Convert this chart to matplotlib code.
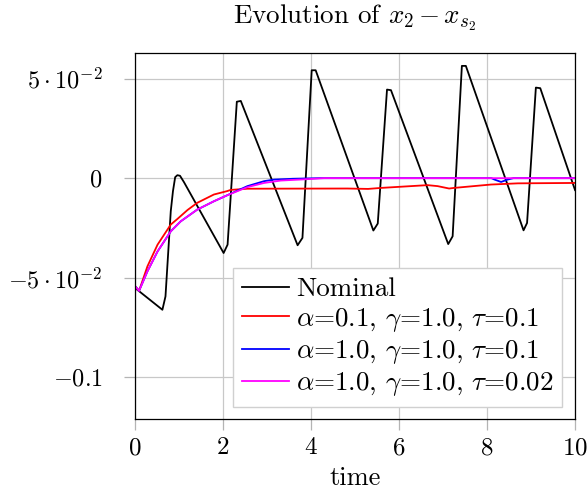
import matplotlib.pyplot as plt

plt.rcParams['font.family'] = 'serif'
plt.rcParams['font.serif'] = ['cmr10']
plt.rcParams['mathtext.fontset'] = 'cm'
plt.rcParams['axes.formatter.use_mathtext'] = True
plt.rcParams['font.size'] = 19

# Nominal
t_nom = [0.0, 0.63, 0.70, 0.82, 0.87, 0.92, 0.97, 1.03, 1.12, 2.02, 2.11, 2.32, 2.41,
         3.70, 3.81, 4.02, 4.11, 5.42, 5.52, 5.73, 5.82, 7.12, 7.22, 7.43, 7.52,
         8.83, 8.91, 9.11, 9.21, 10.0]
y_nom = [-0.055, -0.0661, -0.0594, -0.0166, -0.0065, 0.0005, 0.0015, 0.0012, -0.002,
         -0.0376, -0.0334, 0.0384, 0.0388, -0.0337, -0.030, 0.0542, 0.0542,
         -0.0263, -0.0228, 0.0445, 0.0442, -0.0331, -0.0292, 0.0564, 0.0564,
         -0.0262, -0.0225, 0.0455, 0.0452, -0.006]

# alpha=0.1, gamma=1.0, tau=0.1
t_red = [0.0, 0.1, 0.29, 0.52, 0.82, 0.97, 1.2, 1.42, 1.8, 2.1, 2.18, 2.56, 4.83, 5.3,
         5.59, 6.65, 6.88, 7.14, 7.25, 8.09, 8.7, 10.0]
y_red = [-0.054, -0.0566, -0.0443, -0.0334, -0.0233, -0.0205, -0.0160, -0.0124,
         -0.0082, -0.0065, -0.0059, -0.0053, -0.0052, -0.0054, -0.0049, -0.0035,
         -0.004, -0.0052, -0.0049, -0.0032, -0.0026, -0.0024]

# alpha=1.0, gamma=1.0, tau=0.1
t_blue = [0.0, 0.1, 0.29, 0.52, 0.82, 1.045, 1.42, 1.8, 2.1, 2.56, 2.94, 3.17, 3.6,
          4.2, 8.1, 8.17, 8.32, 8.47, 8.6, 10.0]
y_blue = [-0.054, -0.0566, -0.0468, -0.0368, -0.0267, -0.0217, -0.0158, -0.0116,
          -0.0086, -0.004, -0.0015, -0.0007, -0.0003, 0.0, 0.0, -0.0007, -0.0019,
          -0.0007, 0.0, 0.0]

# alpha=1.0, gamma=1.0, tau=0.02
t_mag = [0.0, 0.1, 0.29, 0.52, 0.82, 1.045, 1.42, 1.8, 2.1, 2.56, 2.94, 3.32, 3.84,
         4.3, 10.0]
y_mag = [-0.054, -0.0566, -0.0468, -0.0368, -0.0267, -0.0217, -0.0158, -0.0116,
         -0.0086, -0.0045, -0.0024, -0.0012, -0.0006, 0.0, 0.0]

fig = plt.figure(figsize=(5.88, 4.93), dpi=100)
ax = fig.add_axes([0.229, 0.150, 0.749, 0.743])

ax.plot(t_nom, y_nom, color='black', lw=1.3, label='Nominal')
ax.plot(t_red, y_red, color='red', lw=1.3, label=r'$\alpha$=0.1, $\gamma$=1.0, $\tau$=0.1')
ax.plot(t_blue, y_blue, color='blue', lw=1.3, label=r'$\alpha$=1.0, $\gamma$=1.0, $\tau$=0.1')
ax.plot(t_mag, y_mag, color='magenta', lw=1.3, label=r'$\alpha$=1.0, $\gamma$=1.0, $\tau$=0.02')

ax.set_xlim(0, 10)
ax.set_ylim(-0.121, 0.063)
ax.set_xticks([0, 2, 4, 6, 8, 10])
ax.set_yticks([-0.1, -0.05, 0, 0.05])
ax.set_yticklabels([r'$-0.1$', r'$-5\cdot10^{-2}$', r'$0$', r'$5\cdot10^{-2}$'], fontsize=17.5)
ax.set_xticklabels([rf'${v}$' for v in [0, 2, 4, 6, 8, 10]], fontsize=18)
ax.grid(True, color='#c8c8c8', lw=0.9)
ax.tick_params(direction='out', length=8, color='#b4b4b4', width=0.9)
ax.tick_params(axis='x', pad=5)
ax.tick_params(axis='y', pad=15)
for s in ax.spines.values():
    s.set_linewidth(0.9)

ax.set_title(r'Evolution of $x_2\,{-}\,x_{s_2}$', fontsize=19.5, pad=21)
ax.set_xlabel('time', labelpad=5)

leg = ax.legend(loc='lower right', bbox_to_anchor=(0.9705, 0.032), fancybox=False,
                framealpha=1, edgecolor='#d0d0d0', handlelength=1.75, fontsize=19.5,
                borderpad=0.33, labelspacing=0.16, handletextpad=0.25, borderaxespad=0)
leg.get_frame().set_linewidth(1.0)

fig.savefig('out.png', dpi=100)
